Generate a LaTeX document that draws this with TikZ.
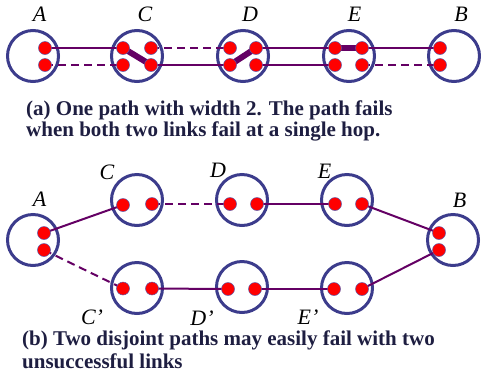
\documentclass[tikz,border=0pt]{standalone}
\usepackage{fontspec}
\setmainfont{Liberation Serif}
\definecolor{ringc}{RGB}{60,60,140}
\definecolor{linkc}{RGB}{100,0,100}
\definecolor{dotedge}{RGB}{90,90,170}
\definecolor{capc}{RGB}{30,30,65}
\begin{document}
\begin{tikzpicture}[x=1pt,y=-1pt,
  ring/.style={circle,draw=ringc,line width=3pt,minimum size=51pt,inner sep=0pt},
  dot/.style={circle,fill=red,draw=dotedge,line width=0.5pt,minimum size=13pt,inner sep=0pt},
  lbl/.style={inner sep=0pt,font=\fontsize{22}{22}\selectfont\itshape},
  captxt/.style={inner sep=0pt,anchor=base west,text=capc,font=\fontsize{21}{21}\selectfont\bfseries},
  link/.style={draw=linkc,line width=2pt},
  dlink/.style={draw=linkc,line width=2pt,dash pattern=on 8pt off 5pt},
  tlink/.style={draw=linkc,line width=6pt}]
\useasboundingbox (0,0) rectangle (481,381);
% ---------- (a) ----------
\node[ring] (ra) at (33,56) {};
\node[ring] (rc) at (137,56) {};
\node[ring] (rd) at (243,56) {};
\node[ring] (re) at (349,56) {};
\node[ring] (rb) at (454,56) {};
\node[lbl] (la) at (39.5,14.5) {A};
\node[lbl] (lc) at (145,14.5) {C};
\node[lbl] (ld) at (250,14.5) {D};
\node[lbl] (le) at (354.5,14.5) {E};
\node[lbl] (lb) at (461,14.5) {B};
\coordinate (a1) at (45,48);
\coordinate (a2) at (45,65);
\coordinate (c1) at (123,48);
\coordinate (c2) at (123,65);
\coordinate (c3) at (151,48);
\coordinate (c4) at (151,65);
\coordinate (d1) at (230,48);
\coordinate (d2) at (230,65);
\coordinate (d3) at (256,48);
\coordinate (d4) at (256,65);
\coordinate (e1) at (335,48);
\coordinate (e2) at (335,65);
\coordinate (e3) at (362,48);
\coordinate (e4) at (362,65);
\coordinate (b1) at (440,48);
\coordinate (b2) at (440,65);
\draw[link] (a1) -- (c1);
\draw[dlink] (a2) -- (c2);
\draw[tlink] (c1) -- (c4);
\draw[dlink] (c3) -- (d1);
\draw[link] (c4) -- (d2);
\draw[tlink] (d2) -- (d3);
\draw[link] (d3) -- (e1);
\draw[link] (d4) -- (e2);
\draw[tlink] (e1) -- (e3);
\draw[link] (e3) -- (b1);
\draw[dlink] (e4) -- (b2);
\foreach \p in {a1,a2,c1,c2,c3,c4,d1,d2,d3,d4,e1,e2,e3,e4,b1,b2}
  \node[dot] (n\p) at (\p) {};
\node[captxt] (capa1) at (26,115.7) {(a) One path with width 2. The path fails};
\node[captxt] (capa2) at (26,136.7) {when both two links fail at a single hop.};
% ---------- (b) ----------
\node[ring] (sa) at (33,240) {};
\node[ring] (sc) at (137,200) {};
\node[ring] (sd) at (242,200) {};
\node[ring] (se) at (347,200) {};
\node[ring] (sb) at (453,240) {};
\node[ring] (scp) at (137,288) {};
\node[ring] (sdp) at (242,287) {};
\node[ring] (sep) at (347,288) {};
\node[lbl] (ma) at (39.5,199.5) {A};
\node[lbl] (mc) at (107,172) {C};
\node[lbl] (md) at (218,170) {D};
\node[lbl] (me) at (324.5,171) {E};
\node[lbl] (mb) at (459.5,200) {B};
\node[lbl] (mcp) at (92,317) {C’};
\node[lbl] (mdp) at (202,318.5) {D’};
\node[lbl] (mep) at (308,317) {E’};
\coordinate (A1) at (44,233);
\coordinate (A2) at (44,250);
\coordinate (C1) at (123,205);
\coordinate (C2) at (152,204);
\coordinate (D1) at (230,204);
\coordinate (D2) at (257,204);
\coordinate (E1) at (335,204);
\coordinate (E2) at (362,204);
\coordinate (B1) at (439,233);
\coordinate (B2) at (439,250);
\coordinate (P1) at (123,288.5);
\coordinate (P2) at (152,288.5);
\coordinate (Q1) at (228,289);
\coordinate (Q2) at (255,289);
\coordinate (R1) at (334,289);
\coordinate (R2) at (362,289);
\draw[link] (A1) -- (C1);
\draw[dlink] (A2) -- (P1);
\draw[dlink] (C2) -- (D1);
\draw[link] (D2) -- (E1);
\draw[link] (E2) -- (B1);
\draw[link] (P2) -- (Q1);
\draw[link] (Q2) -- (R1);
\draw[link] (R2) -- (B2);
\foreach \p in {A1,A2,C1,C2,D1,D2,E1,E2,B1,B2,P1,P2,Q1,Q2,R1,R2}
  \node[dot] (m\p) at (\p) {};
\node[captxt] (capb1) at (22,345.5) {(b) Two disjoint paths may easily fail with two};
\node[captxt] (capb2) at (22,368.5) {unsuccessful links};
\end{tikzpicture}
\end{document}
